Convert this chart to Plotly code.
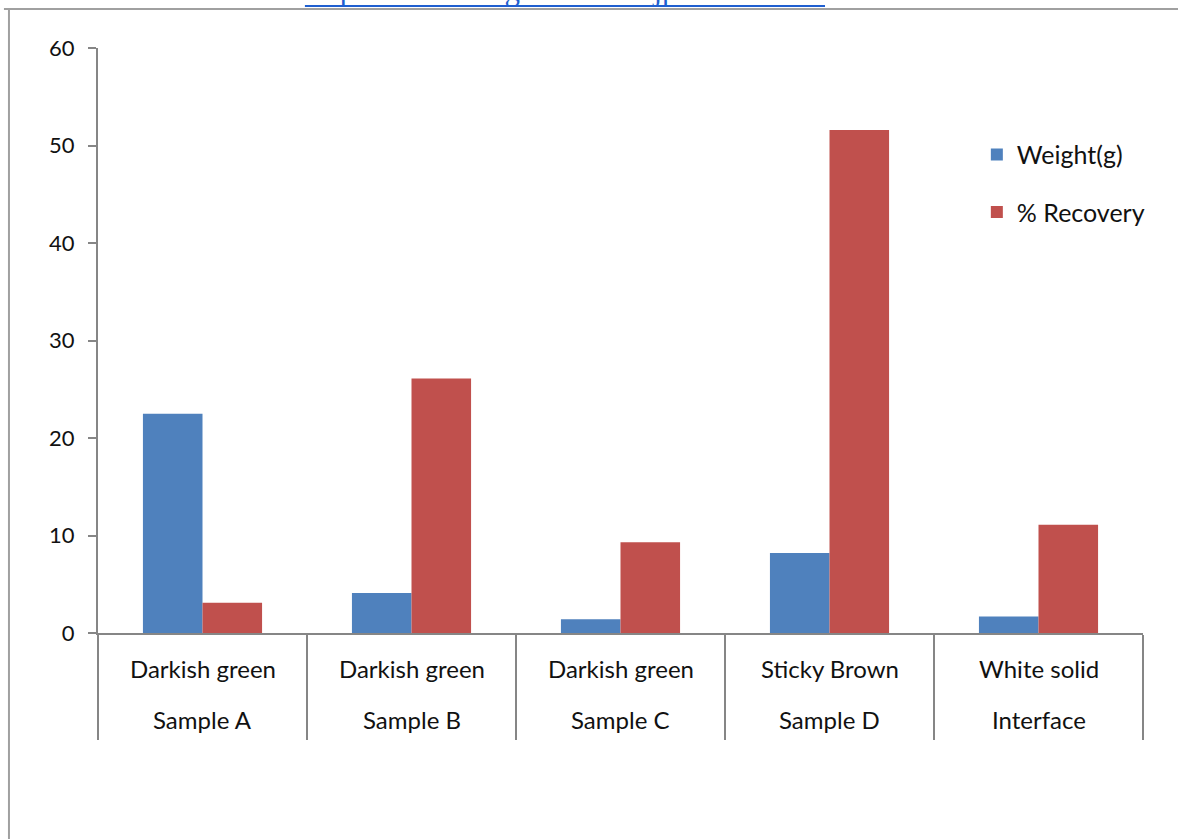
import plotly.graph_objects as go

# Fractions isolated from each sample
categories = ["Sample A", "Sample B", "Sample C", "Sample D", "Interface"]
descriptions = ["Darkish green", "Darkish green", "Darkish green", "Sticky Brown", "White solid"]
weight_g = [22.5, 4.1, 1.4, 8.2, 1.7]
recovery_pct = [3.1, 26.1, 9.3, 51.6, 11.1]
y_ticks = [0, 10, 20, 30, 40, 50, 60]

BLUE = "#4F81BD"
RED = "#C0504D"
AXIS_GREY = "#868686"
FONT = "Lato, 'Open Sans', sans-serif"

fig = go.Figure()
fig.add_trace(go.Bar(x=categories, y=weight_g, name="Weight(g)",
                     marker=dict(color=BLUE, line=dict(width=0)),
                     legendgroup="w"))
fig.add_trace(go.Bar(x=categories, y=recovery_pct, name="% Recovery",
                     marker=dict(color=RED, line=dict(width=0)),
                     legendgroup="r"))

# Two-line category labels under each group
for cat, desc in zip(categories, descriptions):
    fig.add_annotation(x=cat, xref="x", y=-0.0615, yref="paper", text=desc,
                       showarrow=False, font=dict(size=24, color="#111111", family=FONT),
                       xanchor="center", yanchor="middle")
    fig.add_annotation(x=cat, xref="x", y=-0.1487, yref="paper", text=cat,
                       showarrow=False, font=dict(size=24, color="#111111", family=FONT),
                       xanchor="center", yanchor="middle")

# Page frame around the chart
fig.add_shape(type="line", xref="paper", yref="paper", x0=-0.0852, x1=-0.0852,
              y0=1.0667, y1=-0.36, line=dict(color="#A0A0A0", width=2))
fig.add_shape(type="line", xref="paper", yref="paper", x0=-0.09, x1=1.04,
              y0=1.0667, y1=1.0667, line=dict(color="#A0A0A0", width=2))

# Source link above the frame
fig.add_annotation(x=0.198, xref="paper", y=1.0667, yref="paper",
                   text="https://dx.doi.org/10.4314/njpar.v43i2.6",
                   showarrow=False, xanchor="left", yanchor="bottom",
                   font=dict(size=31, color="#1F5FD0", family="Liberation Serif"))
fig.add_shape(type="line", xref="paper", yref="paper", x0=0.198, x1=0.6957,
              y0=1.0718, y1=1.0718, line=dict(color="#1F5FD0", width=2))

fig.update_layout(
    width=1178, height=839,
    margin=dict(l=98, r=35, t=48, b=206),
    paper_bgcolor="white", plot_bgcolor="white",
    barmode="group", bargap=0.43, bargroupgap=0,
    font=dict(family=FONT, color="#111111"),
    showlegend=True,
    legend=dict(x=0.841, y=0.857, xanchor="left", yanchor="top",
                font=dict(size=25, family=FONT, color="#111111"),
                tracegroupgap=22, bgcolor="rgba(0,0,0,0)"),
    xaxis=dict(type="category", showticklabels=False, showgrid=False,
               showline=True, linecolor=AXIS_GREY, linewidth=2,
               ticks="outside", tickson="boundaries", ticklen=105,
               tickcolor=AXIS_GREY, tickwidth=2, range=[-0.5, 4.5]),
    yaxis=dict(range=[0, 60], tickvals=y_ticks, showgrid=False, zeroline=False,
               showline=True, linecolor=AXIS_GREY, linewidth=2,
               ticks="outside", ticklen=8, tickcolor=AXIS_GREY, tickwidth=2,
               ticklabelstandoff=9,
               tickfont=dict(size=22, family=FONT, color="#111111")),
)

fig.write_html("out.html")
